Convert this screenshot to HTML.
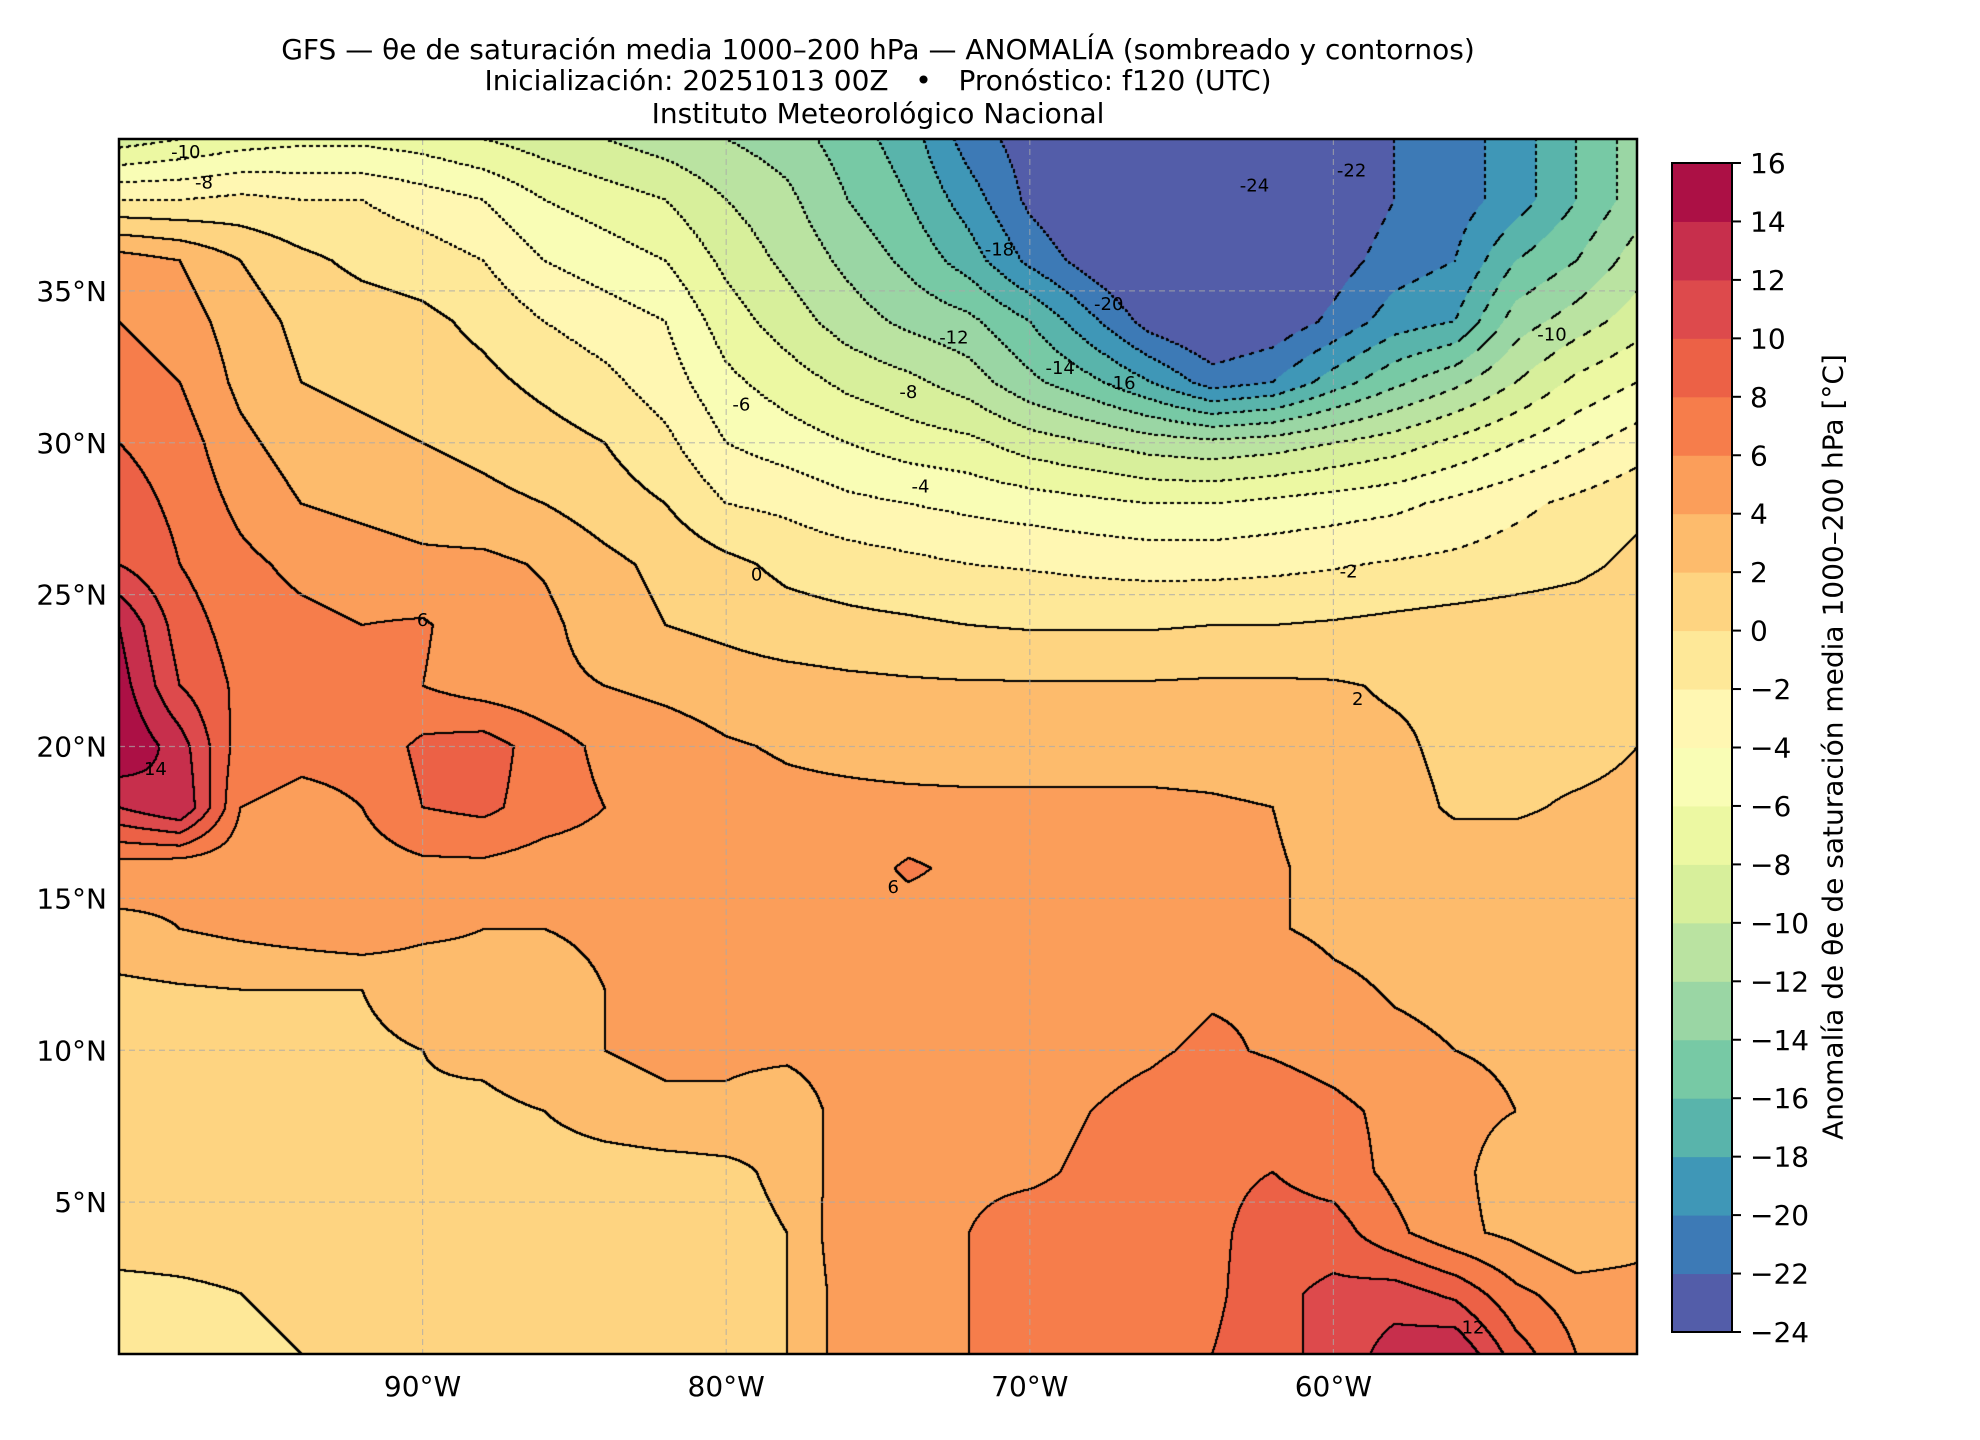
<!DOCTYPE html>
<html><head><meta charset="utf-8">
<style>
html,body{margin:0;padding:0;background:#fff;}
#root{position:relative;width:1980px;height:1440px;overflow:hidden;font-family:"DejaVu Sans","Liberation Sans",sans-serif;color:#000;}
.t{position:absolute;white-space:nowrap;font-size:28px;}
</style></head>
<body>
<div id="root">
  <div class="t" style="left:878px;top:33px;transform:translateX(-50%);">GFS — θe de saturación media 1000–200 hPa — ANOMALÍA (sombreado y contornos)</div>
  <div class="t" style="left:878px;top:64px;transform:translateX(-50%);">Inicialización: 20251013 00Z &nbsp; • &nbsp; Pronóstico: f120 (UTC)</div>
  <div class="t" style="left:878px;top:97px;transform:translateX(-50%);">Instituto Meteorológico Nacional</div>
  <canvas id="map" width="1518" height="1215" style="position:absolute;left:119px;top:139px;"></canvas>
  <svg id="ov" width="1980" height="1440" style="position:absolute;left:0;top:0;"></svg>
  <div class="t" style="left:1833px;top:747px;transform:translate(-50%,-50%) rotate(-90deg);">Anomalía de θe de saturación media 1000–200 hPa [°C]</div>
</div>
<script>
// ---- data ----
const lats = [40,38,36,34,32,30,28,26,24,22,20,18,16,14,12,10,8,6,4,2,0];
const lons = [-100,-98,-96,-94,-92,-90,-88,-86,-84,-82,-80,-78,-76,-74,-72,-70,-68,-66,-64,-62,-60,-58,-56,-54,-52,-50];
const row40 = [-9,-8,-7,-6.5,-6.5,-7,-8,-9,-10,-11,-12,-13,-15,-17,-21,-23,-24.5,-25,-25,-25,-23.5,-22,-21,-19,-16,-13];
const row38 = [-2,-2,-1.5,-2,-2,-3,-4,-6,-7,-8,-10,-11.5,-14,-16,-19,-22.5,-24.5,-25,-25,-25,-24,-22,-21,-19,-16,-13];
const row36 = [5,4,2,0.5,-0.5,-1,-2,-4,-5,-6,-8.5,-10.5,-12.5,-14.5,-17,-20.5,-23,-25,-25,-24.5,-23,-21,-20,-16,-14,-11];
const row34 = [6,5,3,1.5,1,0.5,-0.5,-2,-3,-4,-7,-9,-11,-12.5,-13.5,-16,-19.5,-23,-24.5,-23.5,-21.5,-19,-18,-13,-11,-9];
const row32 = [7,6,3.5,2,1.5,1,0.5,-0.5,-1.5,-3,-5.5,-7,-8.5,-9.5,-11,-13.5,-15.5,-18,-21,-20,-17,-14.5,-12.5,-10,-7.5,-6];
const row30 = [8,7,4.5,3,2.5,2,1.5,0.8,0,-1.5,-4,-5,-6,-7,-7.5,-9,-10,-11,-11.5,-11,-10,-9,-7.5,-6,-4.5,-3];
const row28 = [9,7.5,5.5,4,3.5,3,2.5,2,1,0,-2,-2.5,-3.5,-4,-4.5,-5,-5.5,-6,-6,-5.5,-5,-4.5,-3.5,-2.5,-1.5,-0.5];
const row26 = [10,8,6.5,5.5,5,4.5,4.5,3.8,2.5,1.5,0.5,-0.5,-1,-1.5,-2,-2.2,-2.5,-2.7,-2.7,-2.5,-2.2,-1.8,-1.5,-1,-0.5,0.5];
const row24 = [14,9,7,6.5,6,6.2,5,4.5,3,2,1.5,0.8,0.5,0.3,0,-0.2,-0.2,-0.2,0,0,0.2,0.5,0.8,1,1.2,1.5];
const row22 = [15,10,7.5,7,6.5,6,5,4.5,4,3.5,3,2.8,2.5,2.3,2.2,2.2,2.2,2.2,2.3,2.3,2.2,1.8,1.7,1.5,1.5,1.8];
const row20 = [16,13,7,6.5,6.5,8.5,9,7,5.5,5,4.2,3.8,3.5,3.2,3,3,3,3,3,2.8,2.5,2.3,1.6,1.5,1.5,2];
const row18 = [12,14,6,5.5,6,8,8.5,7,6,5.5,4.8,4.5,4.5,4.5,4.5,4.5,4.5,4.5,4.3,4,3.2,2.6,1.8,1.8,2.2,2.4];
const row16 = [5,4.5,4.5,4.5,5,5.5,5.5,5,5,5,5,5,5,6.3,5.5,5,5,5,4.8,4.2,3.5,3,2.8,2.8,2.8,2.8];
const row14 = [3.5,4,4.5,5,5.5,4.5,4,4,4.2,4.5,5,5,5,5,5,5,5,5,4.8,4.2,3.5,3.2,3,3,3,3];
const row12 = [1.5,1.8,2,2,2,2.5,3,3.5,4,4.5,5,5,5,5,5,5.2,5.8,5.3,5.8,5.8,4.5,3.8,3.5,3.2,3.2,3.5];
const row10 = [1.2,1.2,1.3,1.5,1.8,2,2.5,3.5,4,4.5,4.5,4.5,5,5.3,5.5,5.8,5.5,5.8,6.3,5.8,5.2,4.5,4,3.8,3.5,3.5];
const row8  = [1,1,1.2,1.5,1.8,1.8,1.5,2,3,3.5,3.5,2.5,5,5.3,5.3,5.6,6,6.5,7.2,7.2,6.5,5.5,4.5,4,3.5,3];
const row6  = [1,1,1,1,1,1,1,1,1,1.2,1.5,2.5,5,5.8,5.8,5.8,6.2,6.8,7.5,8,7,5.5,4.5,3,2.5,3];
const row4  = [0.8,0.8,0.8,0.8,0.8,0.8,0.8,0.8,0.8,1,1.2,2,5.5,5.5,6,6.5,6.5,7,7.5,9,9,6.5,4.5,3.5,2,3];
const row2  = [-0.5,-0.3,0,0.3,0.5,0.6,0.6,0.6,0.6,0.8,1,2,5,5.5,6,6.5,6.5,7,7.5,9.5,10.5,11,9.5,6.5,5,5];
const row0  = [-0.5,-0.5,-0.3,0,0.2,0.3,0.5,0.5,0.5,0.5,1,2,5,5.5,6,6.5,7,7,8,9.5,10.5,13,14,9,6,5];
const grid = [row40,row38,row36,row34,row32,row30,row28,row26,row24,row22,row20,row18,row16,row14,row12,row10,row8,row6,row4,row2,row0];
const levels = [-24,-22,-20,-18,-16,-14,-12,-10,-8,-6,-4,-2,0,2,4,6,8,10,12,14,16];
const lonTicks = [-90,-80,-70,-60];
const lonTickLabels = ["90°W","80°W","70°W","60°W"];
const latTicks = [35,30,25,20,15,10,5];
const latTickLabels = ["35°N","30°N","25°N","20°N","15°N","10°N","5°N"];
const contourLabelText = ["-24","-22","-20","-18","-16","-14","-12","-8","-6","-4","-2","0","2","6","6","14","12","-10","-10","-8"];
const contourLabelLon = [-62.6,-59.4,-67.4,-71,-67,-69,-72.5,-74,-79.5,-73.6,-59.5,-79,-59.2,-90,-74.5,-98.8,-55.4,-97.8,-52.8,-97.2];
const contourLabelLat = [38.5,39,34.6,36.4,32,32.5,33.5,31.7,31.3,28.6,25.8,25.7,21.6,24.2,15.4,19.3,0.9,39.6,33.6,38.6];

// ---- axes ----
const MX=119, MY=139, MW=1518, MH=1215;
const LON0=-100, LON1=-50, LAT0=0, LAT1=40;
function xScale(lon){return MX+(lon-LON0)/(LON1-LON0)*MW;}
function yScale(lat){return MY+(LAT1-lat)/(LAT1-LAT0)*MH;}

const anchors=["#5e4fa2","#3288bd","#66c2a5","#abdda4","#e6f598","#ffffbf","#fee08b","#fdae61","#f46d43","#d53e4f","#9e0142"];
function hex(h){return [parseInt(h.slice(1,3),16),parseInt(h.slice(3,5),16),parseInt(h.slice(5,7),16)];}
const A=anchors.map(hex);
function cmap(t){t=Math.max(0,Math.min(1,t));const f=t*10;const i=Math.min(9,Math.floor(f));const u=f-i;
  return [0,1,2].map(k=>Math.round(A[i][k]+(A[i+1][k]-A[i][k])*u));}
const nb=levels.length-1;
const binColors=[];
for(let i=0;i<nb;i++){binColors.push(cmap((i+0.5)/nb));}

function field(lon,lat){
  const fx=(lon-lons[0])/(lons[1]-lons[0]);
  const fy=(lats[0]-lat)/(lats[0]-lats[1]);
  let i=Math.max(0,Math.min(lons.length-2,Math.floor(fx)));
  let j=Math.max(0,Math.min(lats.length-2,Math.floor(fy)));
  const u=Math.max(0,Math.min(1,fx-i)), v=Math.max(0,Math.min(1,fy-j));
  const a=grid[j][i],b=grid[j][i+1],c=grid[j+1][i],d=grid[j+1][i+1];
  return a*(1-u)*(1-v)+b*u*(1-v)+c*(1-u)*v+d*u*v;
}
function binOf(v){let k=Math.floor((v-levels[0])/2);return Math.max(0,Math.min(nb-1,k));}

// ---- heatmap cells ----
const cv=document.getElementById('map');
const ctx=cv.getContext('2d');
const img=ctx.createImageData(MW,MH);
const bins=new Int16Array(MW*MH);
for(let py=0;py<MH;py++){
  const lat=LAT1-(py+0.5)/MH*(LAT1-LAT0);
  for(let px=0;px<MW;px++){
    const lon=LON0+(px+0.5)/MW*(LON1-LON0);
    const b=binOf(field(lon,lat));
    bins[py*MW+px]=b;
    const c=binColors[b];const o=(py*MW+px)*4;
    img.data[o]=c[0];img.data[o+1]=c[1];img.data[o+2]=c[2];img.data[o+3]=255;
  }
}
for(let py=0;py<MH-1;py++){
  for(let px=0;px<MW-1;px++){
    const b=bins[py*MW+px];
    const br=bins[py*MW+px+1], bd=bins[(py+1)*MW+px];
    if(b!==br||b!==bd){
      const lvl=levels[Math.max(b,br,bd)];
      if(lvl<0 && ((px+py)%7)>2) continue;
      for(const [dx,dy] of [[0,0],[1,0],[0,1],[1,1]]){
        const o=((py+dy)*MW+px+dx)*4;
        img.data[o]=0;img.data[o+1]=0;img.data[o+2]=0;
      }
    }
  }
}
ctx.putImageData(img,0,0);

// ---- overlay ----
const NS='http://www.w3.org/2000/svg';
const ov=document.getElementById('ov');
function mk(tag,attrs){const e=document.createElementNS(NS,tag);for(const k in attrs)e.setAttribute(k,attrs[k]);ov.appendChild(e);return e;}

lonTicks.forEach((lon,i)=>{
  const x=xScale(lon);
  const g=mk('line',{x1:x,y1:MY,x2:x,y2:MY+MH,stroke:'#aaaaaa','stroke-width':1.2,'stroke-dasharray':'6,4',opacity:0.7});
  
  
  const t=mk('text',{x:x,y:MY+MH+42,'text-anchor':'middle','font-size':28,'font-family':'DejaVu Sans, sans-serif'});
  t.textContent=lonTickLabels[i];
  
  
});
latTicks.forEach((lat,i)=>{
  const y=yScale(lat);
  const g=mk('line',{x1:MX,y1:y,x2:MX+MW,y2:y,stroke:'#aaaaaa','stroke-width':1.2,'stroke-dasharray':'6,4',opacity:0.7});
  
  
  const t=mk('text',{x:MX-12,y:y+10,'text-anchor':'end','font-size':28,'font-family':'DejaVu Sans, sans-serif'});
  t.textContent=latTickLabels[i];
  
  
});
contourLabelText.forEach((s,i)=>{
  const t=mk('text',{x:xScale(contourLabelLon[i]),y:yScale(contourLabelLat[i])+7,'text-anchor':'middle','font-size':18,'font-family':'DejaVu Sans, sans-serif'});
  t.textContent=s;
  
  
});
const fr=mk('rect',{x:MX,y:MY,width:MW,height:MH,fill:'none',stroke:'#000','stroke-width':2.5});



// ---- colorbar ----
const CX=1672, CW=60, CT=163, CB=1332;
function cbY(v){return CB-(v-levels[0])/(levels[nb]-levels[0])*(CB-CT);}
for(let i=0;i<nb;i++){
  const c=binColors[i];
  const r=mk('rect',{x:CX,y:cbY(levels[i+1]),width:CW,height:cbY(levels[i])-cbY(levels[i+1])+0.5,fill:`rgb(${c[0]},${c[1]},${c[2]})`});
  
  
}
const cbf=mk('rect',{x:CX,y:CT,width:CW,height:CB-CT,fill:'none',stroke:'#000','stroke-width':2});


levels.forEach(v=>{
  const y=cbY(v);
  const tk=mk('line',{x1:CX+CW,y1:y,x2:CX+CW+9,y2:y,stroke:'#000','stroke-width':2});
  
  
  const t=mk('text',{x:CX+CW+18,y:y+10,'font-size':28,'font-family':'DejaVu Sans, sans-serif'});
  t.textContent=(v<0?'\u2212'+(-v):String(v));
  
  
});
</script>
</body></html>
